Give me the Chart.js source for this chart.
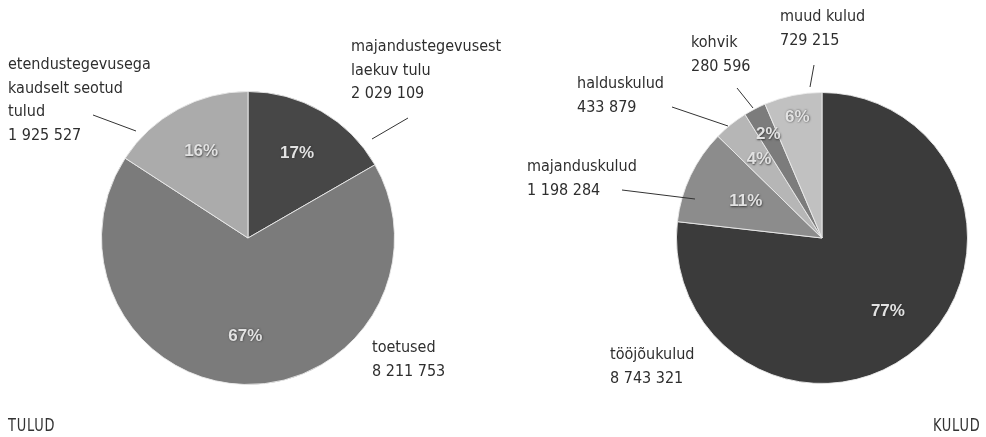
<!DOCTYPE html>
<html>
<head>
<meta charset="utf-8">
<script src="https://cdn.jsdelivr.net/npm/chart.js@4"></script>
<style>
  html, body { margin: 0; padding: 0; background: #fff; }
  #wrap { position: relative; width: 986px; height: 437px; overflow: hidden; }
  canvas { position: absolute; top: 0; left: 0; }
  .cap { position: absolute; top: 414px; font: 18px "DejaVu Sans Condensed", sans-serif; color: #333; letter-spacing: 1px; }
</style>
</head>
<body>
<div id="wrap">
  <canvas id="c1" width="986" height="437"></canvas>
  <canvas id="c2" width="986" height="437"></canvas>
  <div class="cap" style="left:8px; transform: scaleX(0.8); transform-origin: left;">TULUD</div>
  <div class="cap" style="right:6px; transform: scaleX(0.8); transform-origin: right;">KULUD</div>
</div>
<script>
// ---- data ----
const tuludTitle = 'TULUD';
const tuludLabels = [['majandustegevusest', 'laekuv tulu'], ['toetused'], ['etendustegevusega', 'kaudselt seotud', 'tulud']];
const tuludValues = [2029109, 8211753, 1925527];

const kuludTitle = 'KULUD';
const kuludLabels = [['tööjõukulud'], ['majanduskulud'], ['halduskulud'], ['kohvik'], ['muud kulud']];
const kuludValues = [8743321, 1198284, 433879, 280596, 729215];

// ---- styles ----
const tuludColors = ['#474747', '#7b7b7b', '#ababab'];
const kuludColors = ['#3b3b3b', '#8c8c8c', '#b6b6b6', '#7c7c7c', '#c1c1c1'];

// label placement (canvas coords), leader lines, percentage label radius fraction
const tuludLayout = [
  { x: 351, y: 47, line: [408, 118, 372, 139], pr: 0.67 },
  { x: 372, y: 348, line: null, pr: 0.67 },
  { x: 8, y: 65, line: [93, 115, 136, 131], pr: 0.67 }
];
const kuludLayout = [
  { x: 610, y: 355, line: null, pr: 0.68 },
  { x: 527, y: 167, line: [622, 190, 695, 199], pr: 0.58 },
  { x: 577, y: 84, line: [672, 107, 728, 126], pr: 0.69 },
  { x: 691, y: 43, line: [737, 88, 753, 108], pr: 0.80 },
  { x: 780, y: 17, line: [814, 65, 810, 87], pr: 0.85 }
];

const LABEL_FONT = '16px "DejaVu Sans Condensed", sans-serif';
const PCT_FONT = 'bold 17px "Liberation Sans", Arial, sans-serif';
const LINE_H = 23.5;

function fmt(v) { return String(v).replace(/\B(?=(\d{3})+(?!\d))/g, ' '); }

const labelPlugin = {
  id: 'pieLabels',
  afterDatasetsDraw(chart, args, opts) {
    const ctx = chart.ctx;
    const meta = chart.getDatasetMeta(0);
    const vals = chart.data.datasets[0].data;
    const sum = vals.reduce((a, b) => a + b, 0);
    const layout = opts.layout, names = opts.names;
    ctx.save();
    meta.data.forEach((arc, i) => {
      const p = arc.getProps(['x', 'y', 'startAngle', 'endAngle', 'outerRadius'], true);
      const mid = (p.startAngle + p.endAngle) / 2;
      const r = p.outerRadius * layout[i].pr;
      const px = p.x + Math.cos(mid) * r, py = p.y + Math.sin(mid) * r;
      const pct = Math.round(vals[i] / sum * 100) + '%';
      ctx.font = PCT_FONT;
      ctx.textAlign = 'center';
      ctx.textBaseline = 'middle';
      ctx.save();
      ctx.shadowColor = 'rgba(40,40,40,0.8)';
      ctx.shadowBlur = 2;
      ctx.shadowOffsetX = 0.5;
      ctx.shadowOffsetY = 0.5;
      ctx.fillStyle = '#e2e2e2';
      ctx.fillText(pct, px, py);
      ctx.restore();

      // outside labels
      const L = layout[i];
      const lines = names[i].concat([fmt(vals[i])]);
      ctx.font = LABEL_FONT;
      ctx.textAlign = 'left';
      ctx.fillStyle = '#2e2e2e';
      lines.forEach((t, k) => ctx.fillText(t, L.x, L.y + k * LINE_H));
      if (L.line) {
        ctx.beginPath();
        ctx.moveTo(L.line[0], L.line[1]);
        ctx.lineTo(L.line[2], L.line[3]);
        ctx.strokeStyle = '#333';
        ctx.lineWidth = 1;
        ctx.stroke();
      }
    });
    ctx.restore();
  }
};

function makePie(id, values, colors, names, layout, padding) {
  return new Chart(document.getElementById(id), {
    type: 'pie',
    data: {
      labels: names.map(n => n.join(' ')),
      datasets: [{ data: values, backgroundColor: colors, borderColor: 'rgba(235,235,235,0.9)', borderWidth: 1 }]
    },
    options: {
      responsive: false,
      animation: false,
      layout: { padding },
      plugins: {
        legend: { display: false },
        tooltip: { enabled: false },
        pieLabels: { layout, names }
      }
    },
    plugins: [labelPlugin]
  });
}

makePie('c1', tuludValues, tuludColors, tuludLabels, tuludLayout, { left: 101, right: 591, top: 91, bottom: 52 });
makePie('c2', kuludValues, kuludColors, kuludLabels, kuludLayout, { left: 676, right: 18, top: 92, bottom: 53 });
</script>
</body>
</html>
